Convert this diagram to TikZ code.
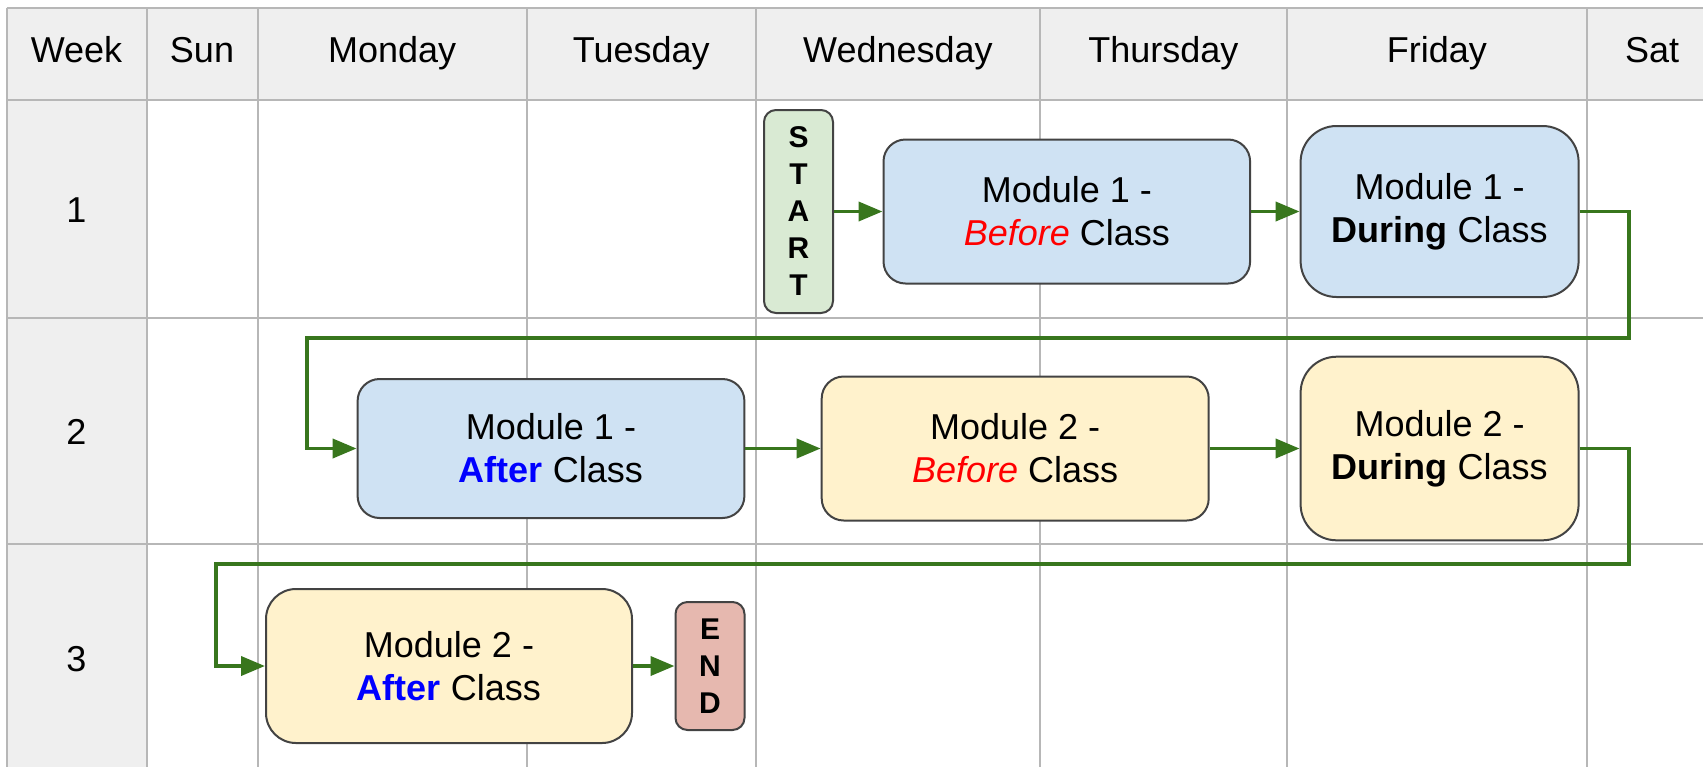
\documentclass[tikz,border=0pt]{standalone}
\usepackage{fontspec}
\setmainfont{Liberation Sans}
\usetikzlibrary{arrows.meta}
\definecolor{gridgray}{HTML}{B7B7B7}
\definecolor{headgray}{HTML}{EFEFEF}
\definecolor{edgegray}{HTML}{434343}
\definecolor{flowgreen}{HTML}{38761D}
\definecolor{modblue}{HTML}{CFE2F3}
\definecolor{modyellow}{HTML}{FFF2CC}
\definecolor{startgreen}{HTML}{D9EAD3}
\definecolor{endred}{HTML}{E6B8AF}
\definecolor{befred}{HTML}{FF0000}
\definecolor{aftblue}{HTML}{0000FF}
\tikzset{
  gridline/.style={draw=gridgray, line width=1pt},
  label/.style={anchor=base, font=\fontsize{18}{21.5}\selectfont},
  box/.style={draw=edgegray, line width=1pt, align=center, inner sep=0pt, font=\fontsize{18}{21.5}\selectfont},
  tag/.style={box, rounded corners=6pt, minimum width=34.5pt, font=\bfseries\fontsize{15}{18.5}\selectfont},
  flow/.style={draw=flowgreen, line width=1.9pt, -{Triangle[length=12pt,width=9.5pt]}},
}
\begin{document}
\begin{tikzpicture}[x=0.5pt,y=-0.5pt]
  \useasboundingbox (0,0) rectangle (1703,767);
  \fill[white] (0,0) rectangle (1703,767);
  \fill[headgray] (6.6,8.3) rectangle (1703,100);
  \fill[headgray] (6.6,100) rectangle (146.5,767);
  \foreach \x in {6.6,146.5,257.8,526.6,756,1039.8,1286.9,1586.8}
    \draw[gridline] (\x,8.3) -- (\x,767);
  \foreach \y in {8.3,100,317.7,544.3}
    \draw[gridline] (6.6,\y) -- (1703,\y);

  \foreach \x/\n/\t in {76.5/week/Week,202/sun/Sun,392.2/mon/Monday,641.3/tue/Tuesday,897.9/wed/Wednesday,1163.4/thu/Thursday,1436.9/fri/Friday,1652/sat/Sat}
    \node[label] (h\n) at (\x,62) {\t};
  \node[label] (w1) at (76.5,222.7) {1};
  \node[label] (w2) at (76.5,444.3) {2};
  \node[label] (w3) at (76.5,671.7) {3};

  \node[tag, fill=startgreen, minimum height=101.5pt] (start) at (798.5,211.5) {S\\T\\A\\R\\T};
  \node[box, fill=modblue, rounded corners=11pt, minimum width=183.3pt, minimum height=72pt] (M1b) at (1066.8,211.5) {Module 1 -\\\textcolor{befred}{\textit{Before}} Class};
  \node[box, fill=modblue, rounded corners=18pt, minimum width=139pt, minimum height=85.5pt] (M1d) at (1439.6,211.5) {Module 1 -\\\textbf{During} Class};
  \node[box, fill=modblue, rounded corners=11pt, minimum width=193.4pt, minimum height=69.5pt] (M1a) at (551,448.5) {Module 1 -\\\textcolor{aftblue}{\textbf{After}} Class};
  \node[box, fill=modyellow, rounded corners=11pt, minimum width=193.5pt, minimum height=72pt] (M2b) at (1015.2,448.5) {Module 2 -\\\textcolor{befred}{\textit{Before}} Class};
  \node[box, fill=modyellow, rounded corners=18pt, minimum width=139pt, minimum height=91.8pt] (M2d) at (1439.6,448.5) {Module 2 -\\\textbf{During} Class};
  \node[box, fill=modyellow, rounded corners=15pt, minimum width=183pt, minimum height=77pt] (M2a) at (449,666) {Module 2 -\\\textcolor{aftblue}{\textbf{After}} Class};
  \node[tag, fill=endred, minimum height=64pt] (End) at (710,666) {E\\N\\D};

  \coordinate (t1) at (1629,338.3); \coordinate (t2) at (307,338.3);
  \coordinate (t3) at (1629,564.3); \coordinate (t4) at (215.6,564.3);

  \draw[flow] (start) -- (M1b); \draw[flow] (M1b) -- (M1d);
  \draw[flow] (M1d.east) -| (t1) -- (t2) |- (M1a.west);
  \draw[flow] (M1a) -- (M2b); \draw[flow] (M2b) -- (M2d);
  \draw[flow] (M2d.east) -| (t3) -- (t4) |- (M2a.west);
  \draw[flow] (M2a) -- (End);
\end{tikzpicture}
\end{document}
